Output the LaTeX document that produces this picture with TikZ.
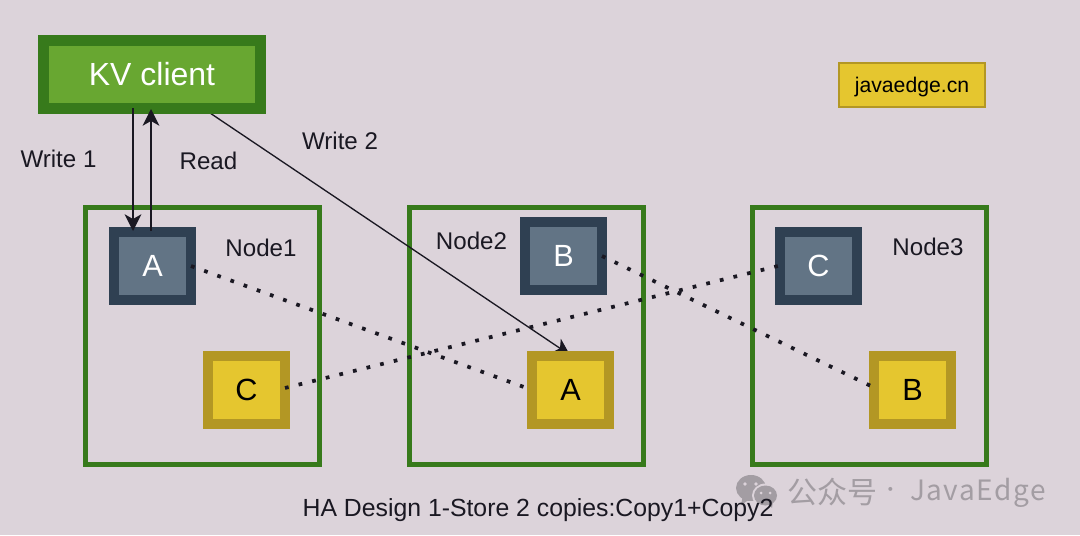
\documentclass[tikz,border=0pt]{standalone}
\usepackage{fontspec}
\setmainfont{Liberation Sans}
\newfontfamily\cjkwm{Noto Sans CJK SC}
\usetikzlibrary{arrows.meta}
\definecolor{bgc}{HTML}{DCD3DA}
\definecolor{grn}{HTML}{377A1B}
\definecolor{grnf}{HTML}{68A731}
\definecolor{navy}{HTML}{2F4052}
\definecolor{slate}{HTML}{627485}
\definecolor{gold}{HTML}{B39724}
\definecolor{yel}{HTML}{E5C62F}
\definecolor{ink}{HTML}{1A1822}
\definecolor{wm}{HTML}{A39DA3}
\tikzset{
  x=0.75pt,y=-0.75pt,
  shard/.style={rectangle,draw,line width=7.7pt,minimum width=57.6pt,minimum height=50.8pt,inner sep=0pt,font=\fontsize{23}{23}\selectfont},
  primary/.style={shard,draw=navy,fill=slate,text=white},
  replica/.style={shard,draw=gold,fill=yel,text=black},
  hostbox/.style={rectangle,draw=grn,line width=3.9pt,minimum width=175.5pt,minimum height=192.5pt,inner sep=0pt},
  lbl/.style={text=ink,font=\fontsize{18.1}{18.1}\selectfont,inner sep=0pt},
  solidarrow/.style={draw=ink,line width=1.3pt,-{Stealth[length=12.5pt,width=12.5pt,inset=3.5pt]}},
  thinarrow/.style={draw=ink,line width=1pt,-{Stealth[length=12.5pt,width=12.5pt,inset=3.5pt]}},
  dotline/.style={draw=ink,line width=2.8pt,dash pattern=on 2.8pt off 7.7pt},
}
\begin{document}
\begin{tikzpicture}
\useasboundingbox (0,0) rectangle (1080,535);
\fill[bgc] (0,0) rectangle (1080,535);
% hosts
\node[hostbox] (n1) at (202.5,336) {};
\node[hostbox] (n2) at (526.5,336) {};
\node[hostbox] (n3) at (869.5,336) {};
% connector ends
\coordinate (w1s) at (133,108);
\coordinate (w1e) at (133,231);
\coordinate (rs) at (151,231);
\coordinate (re) at (151,109);
\coordinate (w2s) at (210,113);
\coordinate (w2e) at (570,355);
\coordinate (d1s) at (191,266);
\coordinate (d1e) at (528,388.5);
\coordinate (d2s) at (285,388);
\coordinate (d2e) at (782,265);
\coordinate (d3s) at (602,256);
\coordinate (d3e) at (874,387.5);
% the head of this arrow lies partly behind the replica box
\draw[thinarrow] (w2s) -- (w2e);
% client
\node[rectangle,draw=grn,fill=grnf,line width=7.9pt,minimum width=163pt,minimum height=50.6pt,inner sep=0pt,text=white,font=\fontsize{24}{24}\selectfont] (client) at (152,74.5) {KV client};
% tag
\node[rectangle,draw=gold,fill=yel,line width=1.5pt,minimum width=109.5pt,minimum height=33pt,inner sep=0pt,text=black,text height=12pt,text depth=1pt,font=\fontsize{15.9}{15.9}\selectfont] (tag) at (912,85) {javaedge.cn};
% shards
\node[primary] (a1) at (152.5,266) {A};
\node[primary] (b1) at (563.5,256) {B};
\node[primary] (c1) at (818.5,266) {C};
\node[replica] (c2) at (246.5,390) {C};
\node[replica] (a2) at (570.5,390) {A};
\node[replica] (b2) at (912.5,390) {B};
% labels
\node[lbl] (lw1) at (58.5,159) {Write 1};
\node[lbl] (lrd) at (208.5,160.5) {Read};
\node[lbl] (lw2) at (340,141) {Write 2};
\node[lbl] (ln1) at (261,248) {Node1};
\node[lbl] (ln2) at (471.5,241) {Node2};
\node[lbl] (ln3) at (928,247) {Node3};
% watermark
\fill[wm] (751,488) ellipse (15 and 13);
\fill[wm] (741,505) -- (743,495) -- (750,499) -- cycle;
\fill[bgc] (765.5,495.5) ellipse (13.5 and 12);
\fill[wm] (765.5,495.5) ellipse (11.5 and 10);
\fill[wm] (772,508) -- (767,503) -- (773,501) -- cycle;
\fill[bgc] (745,484) circle (1.8) (756,484) circle (1.8) (761,493) circle (1.5) (770,493) circle (1.5);
\node[text=wm,inner sep=0pt,anchor=west,font=\cjkwm\fontsize{22.5}{22.5}\selectfont] (wm1) at (787,492) {公众号};
\node[text=wm,inner sep=0pt,font=\cjkwm\fontsize{14}{14}\selectfont] (wm2) at (891,492) {·};
\node[text=wm,inner sep=0pt,anchor=west,font=\cjkwm\fontsize{21}{21}\selectfont] (wm3) at (910,493) {J\kern1pt a\kern1pt v\kern1pt a\kern1pt E\kern1pt d\kern1pt g\kern1pt e};
\node[lbl,font=\fontsize{18.6}{18.6}\selectfont] (cap) at (538,510) {HA Design 1-Store 2 copies:Copy1+Copy2};
\draw[solidarrow] (w1s) -- (w1e);
\draw[solidarrow] (rs) -- (re);
\draw[dotline] (d1s) -- (d1e);
\draw[dotline] (d2s) -- (d2e);
\draw[dotline] (d3s) -- (d3e);
\end{tikzpicture}
\end{document}
